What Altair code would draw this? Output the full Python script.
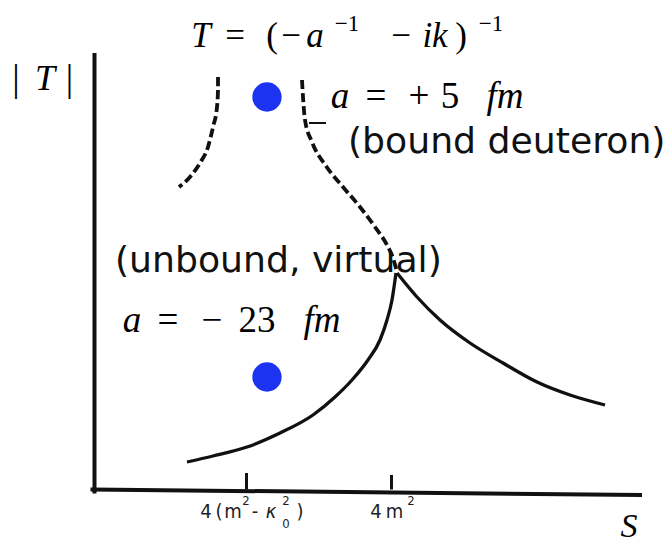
import altair as alt
import pandas as pd

# |T| versus s near the NN threshold: scattering-length amplitude
# T = (-1/a - ik)^-1 for a bound (a = +5 fm) and a virtual (a = -23 fm) state.
# Both axes are in arbitrary units, starting at the axis corner.

# tick positions on the s axis
s_ticks = [15.2, 29.7]
tick_tops = [1.65, 1.45]

# solid curve: virtual state, rising towards the threshold cusp
virt_s = [9.25, 11.85, 15.25, 18.55, 21.85, 24.05, 25.75, 27.35, 28.55, 29.25, 29.75, 30.15]
virt_T = [2.75, 3.35, 4.25, 5.65, 7.45, 9.25, 10.95, 12.95, 14.95, 16.95, 18.95, 21.65]
# solid curve: above threshold, falling off
above_s = [30.25, 32.25, 34.55, 37.55, 40.85, 44.25, 47.55, 51.05]
above_T = [21.65, 19.25, 16.95, 14.65, 12.65, 10.75, 9.45, 8.45]
# dashed curves: bound state, either side of the pole
bound_left_s = [12.35, 12.35, 12.25, 11.85, 11.35, 10.55, 9.55, 8.45]
bound_left_T = [41.25, 39.95, 38.25, 36.25, 34.25, 32.65, 31.25, 30.25]
bound_right_s = [20.75, 20.85, 21.05, 21.75, 23.15, 24.85, 26.55, 28.05, 29.25, 29.85, 30.25]
bound_right_T = [40.95, 39.25, 36.95, 34.75, 32.35, 30.25, 28.25, 26.25, 24.45, 23.15, 21.75]
# short stroke beside the dashed branch
nick_s = [21.45, 23.15]
nick_T = [36.65, 36.65]
# pole markers
pole_s = [17.25, 17.25]
pole_T = [39.25, 11.25]
# hand-drawn axes
yaxis_s = [0.0, 0.0]
yaxis_T = [-0.2, 43.45]
xaxis_s = [-0.2, 54.55]
xaxis_T = [0.0, -0.55]

W, H = 670, 548
X_DOMAIN = [-9.45, 57.55]
Y_DOMAIN = [-5.85, 48.95]

X = alt.X("s:Q", scale=alt.Scale(domain=X_DOMAIN, nice=False, zero=False), axis=None)
Y = alt.Y("mag:Q", scale=alt.Scale(domain=Y_DOMAIN, nice=False, zero=False), axis=None)

INK = "#111111"
SERIF = "Liberation Serif"
SANS = "DejaVu Sans"
SCAN = "DejaVu Sans Condensed, Liberation Sans Narrow, DejaVu Sans"


def curves(pairs):
    frames = []
    for name, (xs, ys) in pairs.items():
        frames.append(pd.DataFrame({"s": xs, "mag": ys, "branch": name, "i": range(len(xs))}))
    return pd.concat(frames, ignore_index=True)


solid = curves({"virtual": (virt_s, virt_T), "above": (above_s, above_T)})
dashed = curves({"left": (bound_left_s, bound_left_T), "right": (bound_right_s, bound_right_T)})
axes = curves({"y": (yaxis_s, yaxis_T), "x": (xaxis_s, xaxis_T)})
nick = curves({"nick": (nick_s, nick_T)})
ticks = pd.DataFrame({"s": s_ticks, "mag": [0.0, 0.0], "mag2": tick_tops})
poles = pd.DataFrame({"s": pole_s, "mag": pole_T})

axis_layer = alt.Chart(axes).mark_line(color=INK, strokeWidth=4, strokeCap="square").encode(
    x=X, y=Y, detail="branch:N", order="i:Q")
tick_layer = alt.Chart(ticks).mark_rule(color=INK, strokeWidth=3).encode(
    x=X, y=Y, y2="mag2:Q")
solid_layer = alt.Chart(solid).mark_line(color=INK, strokeWidth=3.3, interpolate="monotone").encode(
    x=X, y=Y, detail="branch:N", order="i:Q")
dashed_layer = alt.Chart(dashed).mark_line(
    color=INK, strokeWidth=3.8, strokeDash=[9, 4], interpolate="monotone").encode(
    x=X, y=Y, detail="branch:N", order="i:Q")
nick_layer = alt.Chart(nick).mark_line(color=INK, strokeWidth=2).encode(
    x=X, y=Y, detail="branch:N", order="i:Q")
pole_layer = alt.Chart(poles).mark_circle(size=860, color="#1c34f2", opacity=1).encode(x=X, y=Y)


def text_layer(rows, font, size, style="normal", align="center", color="#000000"):
    df = pd.DataFrame(rows, columns=["label", "s", "mag"])
    return alt.Chart(df).mark_text(
        font=font, fontSize=size, fontStyle=style, align=align,
        baseline="alphabetic", color=color,
    ).encode(x=X, y=Y, text="label:N")


MINUS = "\u2212"

# formula T = (-a^-1 - ik)^-1
formula_upright = text_layer(
    [["=", 14.05, 44.25], ["(", 17.75, 44.25], [MINUS, 19.65, 44.25],
     [MINUS, 30.65, 44.25], [")", 36.65, 44.25]], SERIF, 35)
formula_italic = text_layer(
    [["T", 10.65, 44.25], ["a", 22.05, 44.25], ["ik", 34.05, 44.25]], SERIF, 35, "italic")
formula_sup = text_layer(
    [[MINUS + "1", 25.25, 45.85], [MINUS + "1", 39.65, 45.85]], SERIF, 23)

# |T| and S axis titles
abs_bars = text_layer([["|", -7.85, 39.85], ["|", -2.5, 39.85]], SERIF, 37)
axis_T = text_layer([["T", -4.95, 39.95]], SERIF, 36, "italic")
axis_S = text_layer([["S", 53.45, -4.75]], SERIF, 34, "italic")

# a = +5 fm  and  a = -23 fm
a_upright = text_layer(
    [["=", 28.15, 38.15], ["+", 32.45, 38.15], ["5", 35.55, 38.15],
     ["=", 7.35, 15.75], [MINUS, 11.75, 15.75], ["23", 16.25, 15.75]], SERIF, 37)
a_italic = text_layer(
    [["a", 24.55, 38.15], ["fm", 41.05, 38.15],
     ["a", 3.75, 15.75], ["fm", 22.75, 15.75]], SERIF, 37, "italic")

# state descriptions
notes = text_layer(
    [["(bound deuteron)", 25.35, 33.65], ["(unbound, virtual)", 2.05, 21.75]],
    SANS, 36.2, align="left", color=INK)

# tick labels 4(m^2 - kappa_0^2) and 4m^2
TICK_INK = "#1e1e1e"
tick_main = text_layer(
    [["4", 11.15, -2.85], ["(", 12.45, -2.85], ["m", 13.85, -2.85], ["-", 16.05, -2.85],
     [")", 20.55, -2.85], ["4", 28.15, -2.85], ["m", 30.0, -2.85]], SCAN, 20, color=TICK_INK)
tick_kappa = text_layer([["\u03ba", 17.65, -2.85]], SCAN, 20, "italic", color=TICK_INK)
tick_small = text_layer(
    [["2", 15.15, -1.55], ["2", 19.15, -1.55], ["0", 19.15, -3.85], ["2", 31.65, -1.55]],
    SCAN, 13, color=TICK_INK)

chart = alt.layer(
    axis_layer, tick_layer, solid_layer, dashed_layer, nick_layer, pole_layer,
    formula_upright, formula_italic, formula_sup, abs_bars, axis_T, axis_S,
    a_upright, a_italic, notes, tick_main, tick_kappa, tick_small,
).properties(
    width=W, height=H, background="white", padding=0,
    autosize=alt.AutoSizeParams(type="none"),
).configure_view(stroke=None)

chart.save("out.html", embed_options={"renderer": "svg", "actions": False})
